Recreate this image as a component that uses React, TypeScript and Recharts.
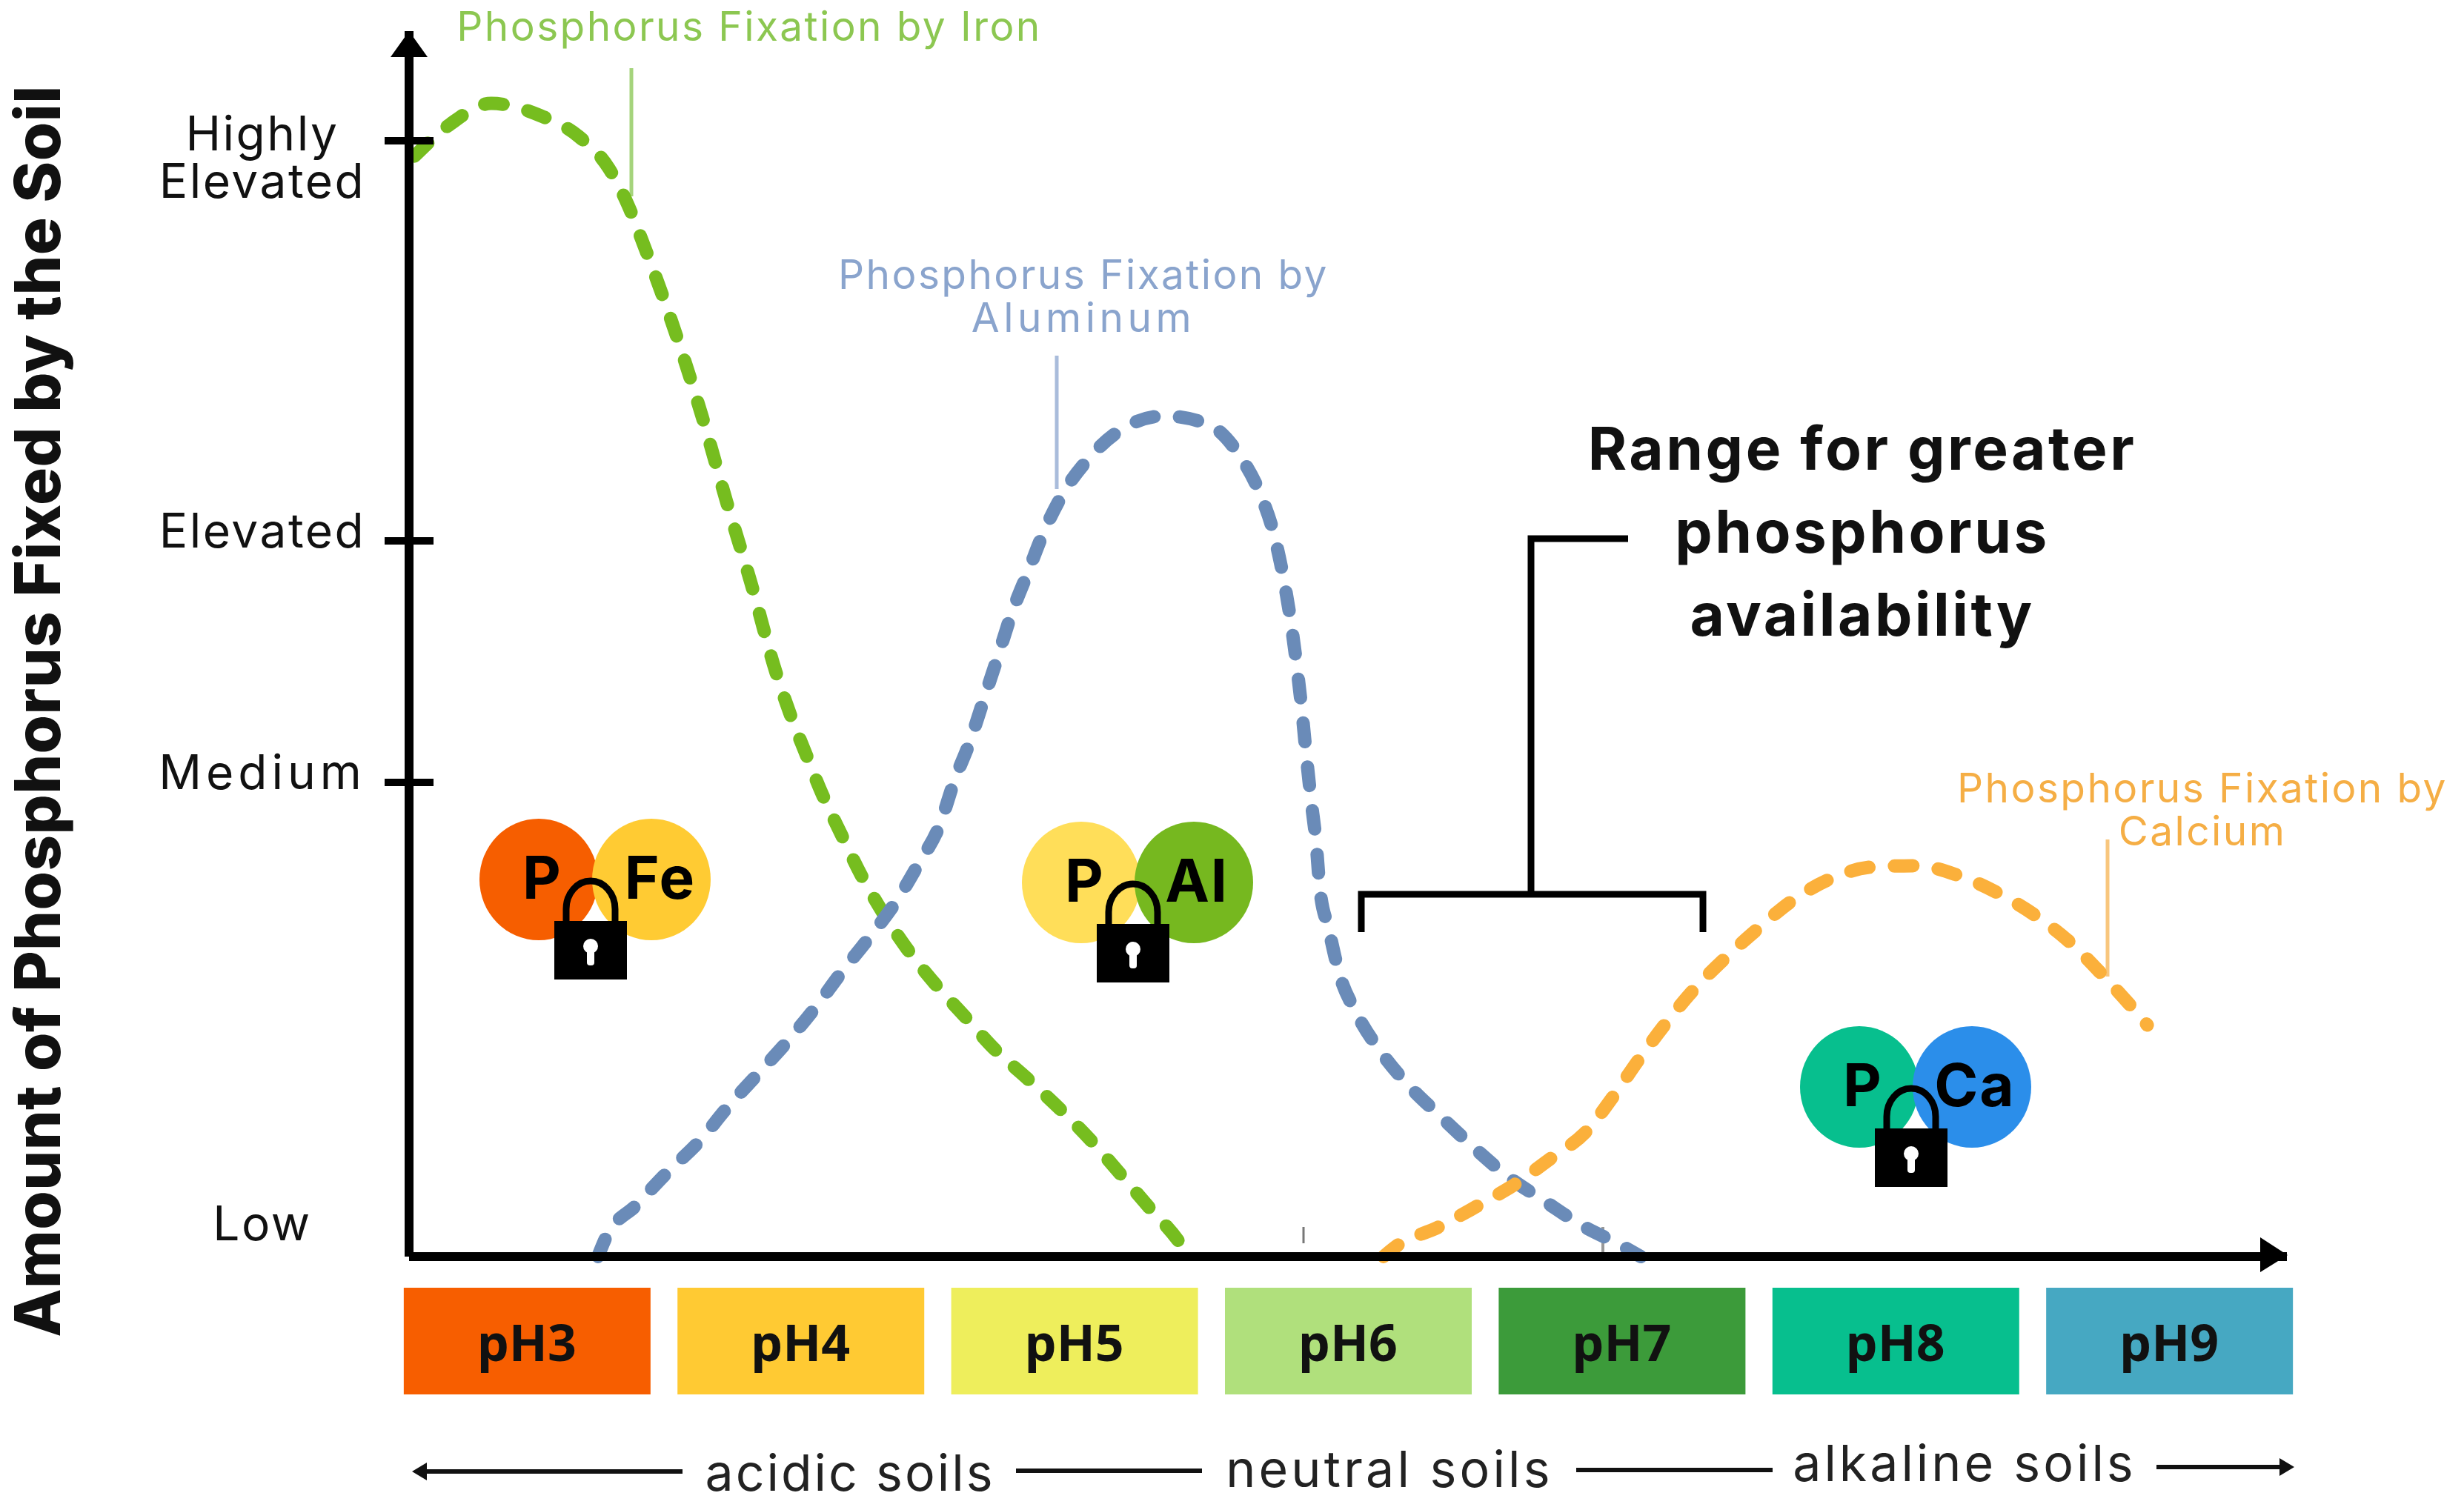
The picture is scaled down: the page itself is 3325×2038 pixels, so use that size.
import { LineChart, Line, XAxis, YAxis } from "recharts";

const phTicks = [3, 4, 5, 6, 7, 8, 9];
const phColors = ["#f75e00", "#ffca33", "#eeee5c", "#b0e07c", "#3c9b3a", "#07bf8e", "#46a8c2"];

const levelTicks = [1.9, 38.7, 58.4, 91.05];
const levelLabels = ["Low", "Medium", "Elevated", "Highly Elevated"];

const ironPh = [2.59, 2.72, 2.87, 3.05, 3.19, 3.3, 3.37, 3.43, 3.54, 3.64, 3.73, 3.82, 3.91, 3.96, 4.02, 4.08, 4.15, 4.22, 4.3, 4.39, 4.49, 4.6, 4.71, 4.83, 4.95, 5.06, 5.17, 5.27, 5.38, 5.42];
const ironLevel = [89.8, 92.4, 94.1, 93.1, 91.4, 88.8, 85.8, 82.4, 75.6, 68.6, 61.6, 54.9, 47.7, 44.4, 41.0, 37.7, 34.4, 31.2, 28.1, 25.1, 22.3, 19.6, 16.9, 14.5, 12.0, 9.5, 6.7, 4.1, 1.3, 0];

const aluminumPh = [3.26, 3.29, 3.4, 3.51, 3.63, 3.73, 3.84, 3.95, 4.05, 4.15, 4.25, 4.35, 4.43, 4.51, 4.56, 4.62, 4.67, 4.72, 4.77, 4.83, 4.89, 4.96, 5.06, 5.18, 5.33, 5.49, 5.6, 5.678, 5.73, 5.765, 5.792, 5.813, 5.832, 5.846, 5.865, 5.884, 5.897, 5.93, 5.968, 6.03, 6.12, 6.22, 6.34, 6.46, 6.58, 6.72, 6.85, 6.99, 7.07];
const aluminumLevel = [0, 1.6, 4.2, 6.8, 9.4, 12.1, 14.8, 17.5, 20.2, 23.2, 26.0, 29.0, 32.0, 35.3, 38.7, 42.1, 45.5, 48.9, 52.4, 55.8, 59.2, 62.3, 65.3, 67.6, 68.6, 67.9, 65.5, 62.3, 58.9, 55.3, 51.7, 48.2, 44.5, 41.3, 37.3, 33.7, 30.1, 26.7, 23.1, 19.9, 16.7, 14.0, 11.4, 8.9, 6.6, 4.5, 2.6, 1.0, 0];

const calciumPh = [6.13, 6.18, 6.33, 6.47, 6.61, 6.74, 6.87, 6.97, 7.06, 7.16, 7.26, 7.38, 7.5, 7.62, 7.76, 7.92, 8.08, 8.23, 8.38, 8.52, 8.65, 8.76, 8.87, 8.92];
const calciumLevel = [0, 0.9, 2.4, 4.1, 5.9, 8.0, 10.2, 13.1, 16.0, 19.0, 21.7, 24.4, 26.8, 29.0, 30.8, 31.8, 31.9, 31.1, 29.6, 27.7, 25.4, 22.9, 20.2, 18.9];

const toRows = (ph: number[], level: number[]) => ph.map((p, i) => ({ ph: p, level: level[i] }));

const FONT = "Inter";

function PhTick({ x, y, payload, index }: any) {
  return (
    <g>
      <rect x={x - 166} y={y + 42} width={333} height={144} fill={phColors[index]} />
      <text x={x} y={y + 141} textAnchor="middle" fontFamily="Noto Sans" fontWeight={700} fontSize={68} fill="#111">
        pH{payload.value}
      </text>
    </g>
  );
}

function LevelTick({ x, y, index }: any) {
  const label = levelLabels[index];
  const words = label === "Highly Elevated" ? ["Highly", "Elevated"] : [label];
  return (
    <g>
      {label !== "Low" && <line x1={x - 33} x2={x + 33} y1={y} y2={y} stroke="#000" strokeWidth={10} />}
      {words.map((w, i) => (
        <text
          key={w}
          x={354}
          y={words.length > 1 ? y + 13 + i * 64 : y + 9}
          textAnchor="middle"
          fontFamily={FONT}
          fontSize={64}
          letterSpacing={w === "Medium" ? 6 : 2.5}
          fill="#111"
        >
          {w}
        </text>
      ))}
    </g>
  );
}

function Badge({ x, y, left, right, name, nameDx = 164 }: any) {
  return (
    <g>
      <ellipse cx={x} cy={y} rx={80} ry={82} fill={left} />
      <ellipse cx={x + 152} cy={y} rx={80} ry={82} fill={right} />
      <text x={x + 4} y={y + 26} textAnchor="middle" fontFamily={FONT} fontWeight={700} fontSize={80} fill="#000">P</text>
      <text x={x + nameDx} y={y + 26} textAnchor="middle" fontFamily={FONT} fontWeight={700} fontSize={80} letterSpacing={2} fill="#000">{name}</text>
      <path
        d={`M ${x + 37} ${y + 60} V ${y + 40} A 33 38 0 0 1 ${x + 103} ${y + 40} V ${y + 60}`}
        fill="none"
        stroke="#000"
        strokeWidth={9}
      />
      <rect x={x + 21} y={y + 56} width={98} height={79} fill="#000" />
      <circle cx={x + 70} cy={y + 90} r={10} fill="#fff" />
      <rect x={x + 65} y={y + 92} width={10} height={24} rx={4} fill="#fff" />
    </g>
  );
}

function Note({ lines, x, y, fill }: any) {
  return (
    <>
      {lines.map((t: string, i: number) => (
        <text
          key={t}
          x={x}
          y={y + i * 58}
          textAnchor="middle"
          fontFamily={FONT}
          fontSize={55}
          letterSpacing={t === "Aluminum" ? 5.5 : 2.4}
          fill={fill}
        >
          {t}
        </text>
      ))}
    </>
  );
}

function SoilLabel({ x, y, spacing = 3, children }: any) {
  return (
    <text x={x} y={y} textAnchor="middle" fontFamily={FONT} fontSize={68} letterSpacing={spacing} fill="#222">
      {children}
    </text>
  );
}

const curveProps = {
  dataKey: "level",
  type: "monotone" as const,
  strokeWidth: 18,
  strokeDasharray: "25 34.4",
  strokeLinecap: "round" as const,
  dot: false,
  isAnimationActive: false,
};

export default function App() {
  return (
    <div style={{ position: "absolute", left: 0, top: 0, width: 3325, height: 2038, background: "#fff" }}>
      <LineChart width={3325} height={2038} margin={{ top: 42, right: 239, bottom: 341, left: 551 }}>
        <XAxis
          dataKey="ph"
          type="number"
          domain={[2.57, 9.43]}
          ticks={phTicks}
          interval={0}
          height={1}
          tickLine={false}
          tickSize={0}
          tickMargin={0}
          tick={PhTick}
          axisLine={{ stroke: "#000", strokeWidth: 12 }}
        />
        <YAxis
          type="number"
          domain={[0, 100]}
          ticks={levelTicks}
          interval={0}
          width={1}
          tickLine={false}
          tickSize={0}
          tickMargin={0}
          tick={LevelTick}
          axisLine={{ stroke: "#000", strokeWidth: 12 }}
        />

        {/* leader lines sit under the curves */}
        <line x1={852} x2={852} y1={92} y2={265} stroke="#a5d47c" strokeWidth={5} />
        <line x1={1426} x2={1426} y1={480} y2={660} stroke="#a9bcdb" strokeWidth={5} />
        <line x1={2844} x2={2844} y1={1133} y2={1318} stroke="#f8c67d" strokeWidth={5} />
        <line x1={1759} x2={1759} y1={1656} y2={1678} stroke="#777" strokeWidth={3} />
        <line x1={2163} x2={2163} y1={1656} y2={1690} stroke="#999" strokeWidth={4} />

        <Line {...curveProps} data={toRows(ironPh, ironLevel)} stroke="#76bd1f" />
        <Line {...curveProps} data={toRows(aluminumPh, aluminumLevel)} stroke="#6a8bb8" />
        <Line {...curveProps} data={toRows(calciumPh, calciumLevel)} stroke="#fbb03b" />

        {/* axis arrow heads */}
        <polygon points="552,42 527,77 577,77" fill="#000" />
        <polygon points="3087,1694 3050,1670 3050,1717" fill="#000" />

        <text
          x={81}
          y={960}
          transform="rotate(-90 81 960)"
          textAnchor="middle"
          fontFamily={FONT}
          fontWeight={800}
          fontSize={85}
          letterSpacing={0.4}
          fill="#111"
        >
          Amount of Phosphorus Fixed by the Soil
        </text>

        <Note lines={["Phosphorus Fixation by Iron"]} x={1011} y={55} fill="#8cc751" />
        <Note lines={["Phosphorus Fixation by", "Aluminum"]} x={1462} y={390} fill="#8aa4cd" />
        <Note lines={["Phosphorus Fixation by", "Calcium"]} x={2972} y={1083} fill="#f5ae45" />

        {["Range for greater", "phosphorus", "availability"].map((t, i) => (
          <text key={t} x={2513} y={634 + i * 112} textAnchor="middle" fontFamily={FONT} fontWeight={700} fontSize={80} letterSpacing={3.5} fill="#111">
            {t}
          </text>
        ))}
        <path d="M 2197 727 H 2066 V 1207" fill="none" stroke="#000" strokeWidth={9} />
        <path d="M 1837 1258 V 1207 H 2298 V 1258" fill="none" stroke="#000" strokeWidth={9} />

        <Badge x={727} y={1187} left="#f65e00" right="#ffcb33" name="Fe" />
        <Badge x={1459} y={1191} left="#ffde59" right="#76b81f" name="Al" nameDx={156} />
        <Badge x={2509} y={1467} left="#07bf8e" right="#2b8eea" name="Ca" nameDx={156} />

        <SoilLabel x={1147} y={2012}>acidic soils</SoilLabel>
        <SoilLabel x={1875} y={2007} spacing={4.2}>neutral soils</SoilLabel>
        <SoilLabel x={2651} y={1999} spacing={4}>alkaline soils</SoilLabel>
        <g stroke="#111" strokeWidth={6}>
          <line x1={566} x2={921} y1={1986} y2={1986} />
          <line x1={1371} x2={1622} y1={1985} y2={1985} />
          <line x1={2127} x2={2392} y1={1984} y2={1984} />
          <line x1={2910} x2={3084} y1={1980} y2={1980} />
        </g>
        <polygon points="556,1986 576,1974 576,1998" fill="#111" />
        <polygon points="3096,1980 3076,1968 3076,1992" fill="#111" />
      </LineChart>
    </div>
  );
}
